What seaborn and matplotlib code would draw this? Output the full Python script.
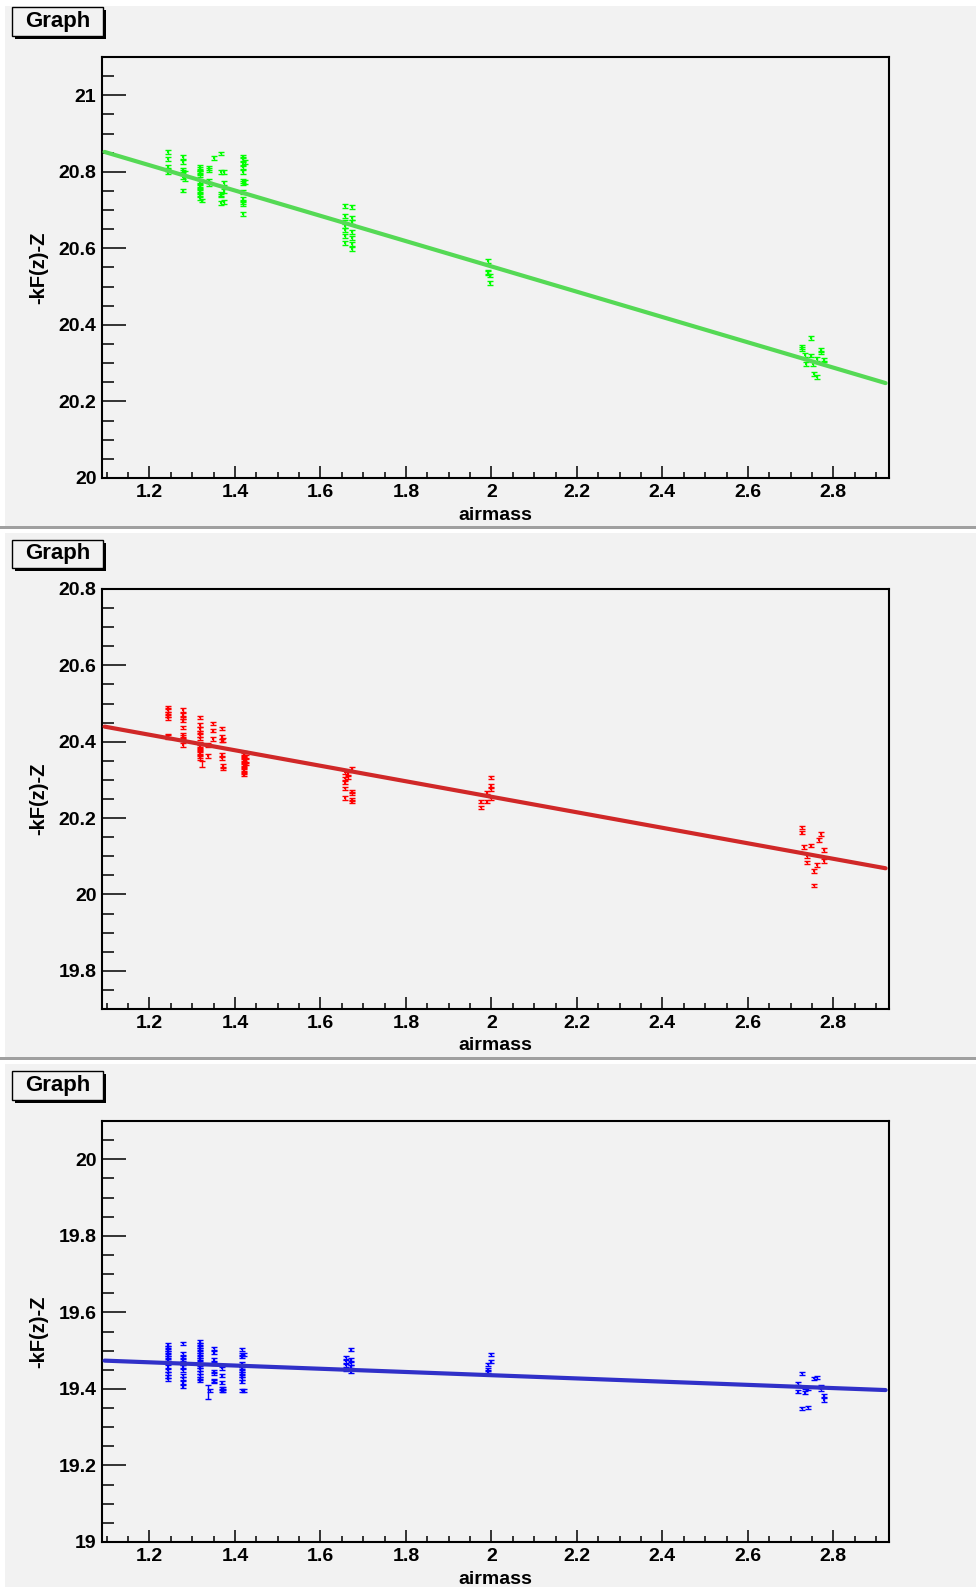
import numpy as np
import pandas as pd
import matplotlib
matplotlib.use("Agg")
import matplotlib.pyplot as plt
from matplotlib.patches import Rectangle
from matplotlib.ticker import MultipleLocator, FormatStrFormatter
import seaborn as sns

# ---- data (airmass vs -kF(z)-Z, three filters) ----
green_x = [
    1.243, 1.243, 1.243, 1.243, 1.243,
    1.279, 1.279, 1.279, 1.279, 1.279, 1.279, 1.283, 1.283,
    1.318, 1.318, 1.318, 1.318, 1.318, 1.318, 1.318, 1.318, 1.318, 1.318, 1.318, 1.318, 1.322,
    1.340, 1.340, 1.340, 1.340, 1.351,
    1.368, 1.368, 1.368, 1.368, 1.368, 1.374, 1.374, 1.374, 1.374,
    1.420, 1.420, 1.420, 1.420, 1.420, 1.420, 1.420, 1.420, 1.420, 1.420, 1.420, 1.420, 1.424, 1.424,
    1.657, 1.657, 1.657, 1.657, 1.657, 1.657, 1.657,
    1.673, 1.673, 1.673, 1.673, 1.673, 1.673, 1.673,
    1.993, 1.993, 1.993, 1.997, 1.997,
    2.747, 2.726, 2.726, 2.770, 2.770, 2.733, 2.747, 2.762, 2.778, 2.778, 2.737, 2.753, 2.754, 2.762,
]
green_y = [
    20.852, 20.834, 20.812, 20.806, 20.798,
    20.838, 20.825, 20.805, 20.799, 20.787, 20.751, 20.796, 20.781,
    20.813, 20.807, 20.800, 20.796, 20.792, 20.774, 20.766, 20.760, 20.752, 20.747, 20.739, 20.732, 20.725,
    20.810, 20.804, 20.776, 20.768, 20.837,
    20.848, 20.800, 20.742, 20.738, 20.718, 20.799, 20.770, 20.750, 20.722,
    20.840, 20.833, 20.820, 20.812, 20.800, 20.777, 20.770, 20.748, 20.728, 20.722, 20.716, 20.690, 20.826, 20.774,
    20.710, 20.685, 20.670, 20.659, 20.648, 20.633, 20.613,
    20.708, 20.679, 20.668, 20.642, 20.628, 20.611, 20.598,
    20.567, 20.539, 20.536, 20.529, 20.509,
    20.365, 20.343, 20.338, 20.334, 20.328, 20.321, 20.320, 20.310, 20.308, 20.302, 20.297, 20.297, 20.271, 20.263,
]

red_x = [
    1.244, 1.244, 1.244, 1.244, 1.244, 1.244, 1.244,
    1.279, 1.279, 1.279, 1.279, 1.279, 1.279, 1.279, 1.279, 1.279,
    1.318, 1.318, 1.318, 1.318, 1.318, 1.318, 1.318, 1.318, 1.318, 1.318, 1.318, 1.318, 1.318,
    1.338, 1.338, 1.349, 1.349, 1.349,
    1.369, 1.369, 1.369, 1.369, 1.369, 1.373, 1.373, 1.373,
    1.421, 1.421, 1.421, 1.421, 1.421, 1.421, 1.421, 1.421, 1.421, 1.421, 1.425, 1.425, 1.425,
    1.657, 1.657, 1.657, 1.657, 1.657, 1.665, 1.665, 1.673, 1.673, 1.673, 1.673, 1.673,
    1.975, 1.975, 1.989, 1.989, 1.999, 1.999, 1.999, 1.999,
    2.726, 2.726, 2.770, 2.767, 2.732, 2.747, 2.778, 2.739, 2.778, 2.739, 2.762, 2.754, 2.754,
]
red_y = [
    20.490, 20.483, 20.474, 20.468, 20.461, 20.415, 20.412,
    20.483, 20.470, 20.464, 20.455, 20.438, 20.418, 20.412, 20.406, 20.391,
    20.464, 20.444, 20.433, 20.424, 20.418, 20.409, 20.396, 20.389, 20.383, 20.377, 20.370, 20.363, 20.357,
    20.392, 20.363, 20.448, 20.429, 20.407,
    20.435, 20.412, 20.403, 20.365, 20.357, 20.405, 20.336, 20.330,
    20.371, 20.365, 20.359, 20.352, 20.345, 20.339, 20.333, 20.326, 20.319, 20.314, 20.362, 20.350, 20.343,
    20.321, 20.304, 20.293, 20.278, 20.253, 20.315, 20.308, 20.329, 20.269, 20.265, 20.249, 20.243,
    20.243, 20.228, 20.267, 20.243, 20.307, 20.284, 20.276, 20.252,
    20.176, 20.162, 20.158, 20.143, 20.124, 20.128, 20.116, 20.101, 20.088, 20.084, 20.077, 20.061, 20.024,
]

blue_x = [
    1.244, 1.244, 1.244, 1.244, 1.244, 1.244, 1.244, 1.244, 1.244, 1.244, 1.244, 1.244, 1.244,
    1.278, 1.278, 1.278, 1.278, 1.278, 1.278, 1.278, 1.278, 1.278, 1.278, 1.278,
    1.318, 1.318, 1.318, 1.318, 1.318, 1.318, 1.318, 1.318,
    1.318, 1.318, 1.318, 1.318, 1.318, 1.318, 1.318, 1.318,
    1.342, 1.350, 1.350, 1.350, 1.350, 1.350, 1.350, 1.350, 1.350,
    1.369, 1.369, 1.369, 1.369, 1.369, 1.373, 1.373,
    1.417, 1.417, 1.417, 1.417, 1.417, 1.417, 1.417, 1.417, 1.417, 1.417, 1.417, 1.417, 1.421, 1.421,
    1.660, 1.660, 1.660, 1.660, 1.671, 1.671, 1.671, 1.671, 1.671,
    1.993, 1.993, 1.993, 1.998, 1.998,
    2.726, 2.754, 2.762, 2.718, 2.733, 2.740, 2.770, 2.770, 2.718, 2.733, 2.778, 2.778, 2.726, 2.741,
]
blue_y = [
    19.515, 19.509, 19.502, 19.495, 19.489, 19.483, 19.476, 19.468, 19.458, 19.449, 19.441, 19.432, 19.425,
    19.519, 19.493, 19.483, 19.476, 19.467, 19.458, 19.449, 19.436, 19.428, 19.416, 19.406,
    19.523, 19.517, 19.510, 19.503, 19.497, 19.490, 19.484, 19.477,
    19.471, 19.464, 19.458, 19.451, 19.444, 19.436, 19.428, 19.421,
    19.397, 19.506, 19.495, 19.476, 19.467, 19.445, 19.441, 19.423, 19.419,
    19.454, 19.434, 19.416, 19.402, 19.395, 19.402, 19.395,
    19.504, 19.490, 19.484, 19.467, 19.460, 19.454, 19.448, 19.441, 19.434, 19.428, 19.419, 19.397, 19.490, 19.395,
    19.483, 19.472, 19.462, 19.450, 19.502, 19.476, 19.467, 19.458, 19.445,
    19.465, 19.451, 19.445, 19.491, 19.471,
    19.441, 19.428, 19.430, 19.415, 19.404, 19.402, 19.406, 19.399, 19.393, 19.390, 19.382, 19.371, 19.349, 19.352,
]

# points with visibly longer error bars
red_wide_x = [1.322]
red_wide_y = [20.342]
red_wide_err = [0.008]
blue_wide_x = [1.338]
blue_wide_y = [19.392]
blue_wide_err = [0.018]

# typical half-length of the error bars in each panel
green_err = 0.005
red_err = 0.0045
blue_err = 0.004

# straight-line fits (intercept, slope) as drawn
fit_intercepts = [21.214, 20.662, 19.520]
fit_slopes = [-0.3306, -0.2031, -0.0421]

x_range = (1.089, 2.930)
y_ranges = [(20.0, 21.1), (19.7, 20.8), (19.0, 20.1)]

marker_colors = ["#00ff00", "#ff0000", "#0000ff"]
line_colors = ["#55d955", "#d02828", "#3030c8"]

# ---- figure ----
W, H = 976, 1587
sns.set_theme(style="white")
plt.rcParams['font.family'] = ['Liberation Sans', 'DejaVu Sans']
plt.rcParams['font.weight'] = 'bold'
plt.rcParams['text.color'] = 'black'
plt.rcParams['axes.labelcolor'] = 'black'

fig = plt.figure(figsize=(W / 100, H / 100), dpi=100)
fig.patch.set_facecolor("white")


def fx(px):
    return px / W


def fy(py):
    return 1 - py / H


pad_bg = "#f2f2f2"
pads = [(6, 527), (533, 1058), (1064, 1587)]
for i, (top, bot) in enumerate(pads):
    fig.patches.append(Rectangle((fx(5), fy(bot)), fx(971), (bot - top) / H,
                                 transform=fig.transFigure, facecolor=pad_bg,
                                 edgecolor="none", zorder=-2))
    if i < 2:
        fig.patches.append(Rectangle((0, fy(bot + 2)), 1, 3 / H,
                                     transform=fig.transFigure, facecolor="#a0a0a0",
                                     edgecolor="none", zorder=-2))

frames = [(57, 478), (589, 1009), (1121, 1542)]
label_boxes = [(7, 36), (540, 568), (1071, 1100)]
left, right = 102, 889

datasets = [
    (green_x, green_y, green_err, [], [], []),
    (red_x, red_y, red_err, red_wide_x, red_wide_y, red_wide_err),
    (blue_x, blue_y, blue_err, blue_wide_x, blue_wide_y, blue_wide_err),
]

for i, (top, bot) in enumerate(frames):
    ax = fig.add_axes([fx(left), fy(bot), (right - left) / W, (bot - top) / H])
    ax.set_facecolor(pad_bg)
    xs, ys, err, wx, wy, we = datasets[i]
    df = pd.DataFrame({"airmass": xs, "mag": ys})

    ax.errorbar(df["airmass"], df["mag"], yerr=err, fmt="none",
                ecolor=marker_colors[i], elinewidth=1.0, capsize=2.3,
                capthick=1.0, zorder=2)
    if wx:
        ax.errorbar(wx, wy, yerr=we, fmt="none", ecolor=marker_colors[i],
                    elinewidth=1.0, capsize=2.3, capthick=1.0, zorder=2)
    sns.scatterplot(data=df, x="airmass", y="mag", ax=ax, s=3, marker="s",
                    color=marker_colors[i], linewidth=0, zorder=2, legend=False)

    fit_x = np.array([1.095, 2.922])
    fit_df = pd.DataFrame({"airmass": fit_x,
                           "mag": fit_intercepts[i] + fit_slopes[i] * fit_x})
    sns.lineplot(data=fit_df, x="airmass", y="mag", ax=ax, color=line_colors[i],
                 linewidth=3, zorder=3)

    ax.set_xlim(*x_range)
    ax.set_ylim(*y_ranges[i])

    ax.xaxis.set_major_locator(MultipleLocator(0.2))
    ax.xaxis.set_minor_locator(MultipleLocator(0.05))
    ax.yaxis.set_major_locator(MultipleLocator(0.2))
    ax.yaxis.set_minor_locator(MultipleLocator(0.05))
    ax.xaxis.set_major_formatter(FormatStrFormatter("%g"))
    ax.yaxis.set_major_formatter(FormatStrFormatter("%g"))

    ax.tick_params(axis="x", which="major", direction="in", length=9, width=1.1,
                   bottom=True, top=False, pad=4, labelsize=14, colors="black")
    ax.tick_params(axis="x", which="minor", direction="in", length=4.5, width=1.1,
                   bottom=True, top=False, colors="black")
    ax.tick_params(axis="y", which="major", direction="in", length=17, width=1.1,
                   left=True, right=False, pad=4, labelsize=14, colors="black")
    ax.tick_params(axis="y", which="minor", direction="in", length=8.5, width=1.1,
                   left=True, right=False, colors="black")
    for lab in ax.get_xticklabels() + ax.get_yticklabels():
        lab.set_fontweight("bold")

    for sp in ax.spines.values():
        sp.set_visible(True)
        sp.set_color("black")
        sp.set_linewidth(1.5)

    ax.set_xlabel("airmass", fontsize=14, fontweight="bold", color="black")
    ax.xaxis.set_label_coords(0.5, -37 / (bot - top))
    ax.xaxis.label.set_va("center")
    ax.set_ylabel("-kF(z)-Z", fontsize=14.5, fontweight="bold", color="black")
    ax.yaxis.set_label_coords(-63 / (right - left), 0.5)
    ax.yaxis.label.set_va("center")

    # "Graph" title box with shadow
    bt, bb = label_boxes[i]
    fig.patches.append(Rectangle((fx(15), fy(bb + 3)), fx(91), (bb - bt) / H,
                                 transform=fig.transFigure, facecolor="black",
                                 edgecolor="none", zorder=1))
    fig.patches.append(Rectangle((fx(12), fy(bb)), fx(91), (bb - bt) / H,
                                 transform=fig.transFigure, facecolor=pad_bg,
                                 edgecolor="black", linewidth=1, zorder=1))
    fig.text(fx(57.5), fy((bt + bb) / 2), "Graph", ha="center", va="center",
             fontsize=16, fontweight="bold", color="black", zorder=2)

fig.savefig("out.png", dpi=100, facecolor=fig.get_facecolor())
